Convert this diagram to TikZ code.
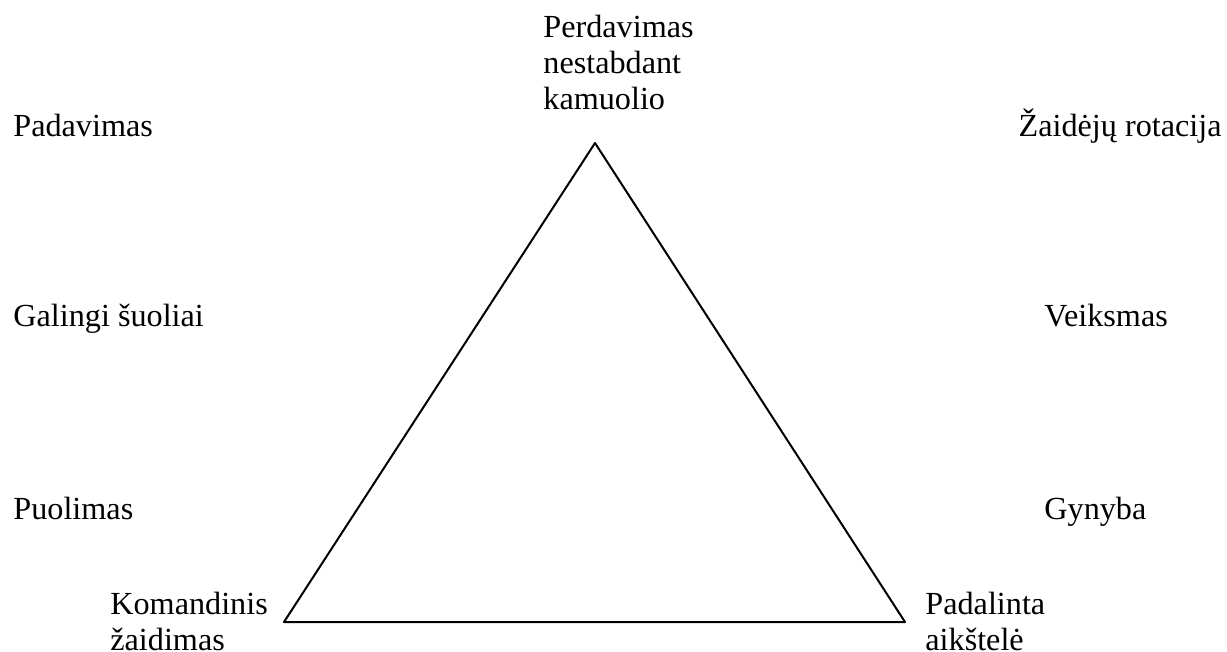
\documentclass[tikz,border=0pt]{standalone}
\usepackage{fontspec}
\setmainfont{Liberation Serif}
\usepackage{tikz}
\usepackage{tkz-base, tkz-euclide}
\usetikzlibrary{positioning}

\begin{document}
\begin{tikzpicture}[x=0.5pt, y=-0.5pt, font=\fontsize{16.1}{18}\selectfont,
    lbl/.style={inner sep=0pt, anchor=base west, align=left}]
\useasboundingbox (0,0) rectangle (1227,652);
\tkzDefPoints{595/143/t, 284/622/l, 905/622/r}
\tkzDrawPolygon[line width=1pt](t,l,r)
% left column
\node[lbl] (pad) at (13,137) {Padavimas};
\node[lbl] (gal) at (13,327) {Galingi šuoliai};
\node[lbl] (puo) at (13,519) {Puolimas};
% right column
\node[lbl, anchor=base east] (rot) at (1222,137) {Žaidėjų rotacija};
\node[lbl] (vei) at (1044,327) {Veiksmas};
\node[lbl] (gyn) at (1044,519) {Gynyba};
% corners (base = last line)
\node[lbl] (per) at (543,110) {Perdavimas\\nestabdant\\kamuolio};
\node[lbl] (kom) at (110,650) {Komandinis\\žaidimas};
\node[lbl] (aik) at (925,650) {Padalinta\\aikštelė};
\end{tikzpicture}
\end{document}
